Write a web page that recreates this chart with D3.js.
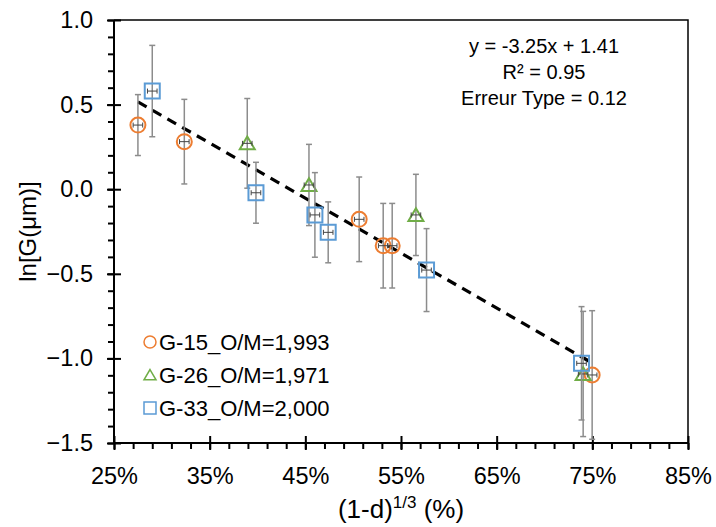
<!DOCTYPE html>
<html>
<head>
<meta charset="utf-8">
<script src="https://cdn.jsdelivr.net/npm/d3@7"></script>
<style>
  body { margin: 0; background: #fff; }
  svg { display: block; font-family: "Liberation Sans", Arial, sans-serif; }
</style>
</head>
<body>
<svg id="chart" width="716" height="527"></svg>
<script>
"use strict";
// values (x as a fraction, y = ln G)
const g15X = [0.275, 0.3235, 0.5063, 0.5314, 0.5408, 0.7498];
const g15Y = [0.379, 0.281, -0.178, -0.334, -0.334, -1.098];
const g15Err = [0.18, 0.25, 0.25, 0.25, 0.25, 0.38];

const g26X = [0.3893, 0.4538, 0.5656, 0.7404];
const g26Y = [0.271, 0.025, -0.152, -1.092];
const g26Err = [0.265, 0.24, 0.24, 0.37];

const g33X = [0.29, 0.3984, 0.46, 0.4739, 0.5767, 0.7387];
const g33Y = [0.58, -0.021, -0.152, -0.255, -0.478, -1.029];
const g33Err = [0.27, 0.18, 0.25, 0.18, 0.245, 0.335];

const xErr = 0.005;

const slope = -3.25;
const intercept = 1.41;
const fitText = ["y = -3.25x + 1.41", "R\u00b2 = 0.95", "Erreur Type = 0.12"];

const xTicks = [0.25, 0.35, 0.45, 0.55, 0.65, 0.75, 0.85];
const yTicks = [-1.5, -1.0, -0.5, 0.0, 0.5, 1.0];

const seriesNames = ["G-15_O/M=1,993", "G-26_O/M=1,971", "G-33_O/M=2,000"];

const series = [
  { name: seriesNames[0], xs: g15X, ys: g15Y, err: g15Err, color: "#ED7D31", shape: "circle" },
  { name: seriesNames[1], xs: g26X, ys: g26Y, err: g26Err, color: "#70AD47", shape: "triangle" },
  { name: seriesNames[2], xs: g33X, ys: g33Y, err: g33Err, color: "#5B9BD5", shape: "square" }
];

const svg = d3.select("#chart");
const plotLeft = 114, plotRight = 688, plotTop = 20, plotBottom = 443;

const x = d3.scaleLinear().domain([0.25, 0.85]).range([plotLeft, plotRight]);
const y = d3.scaleLinear().domain([-1.5, 1.0]).range([plotBottom, plotTop]);

// frame (top and right)
svg.append("path")
  .attr("d", `M${plotLeft},${plotTop}H${plotRight}V${plotBottom}`)
  .attr("fill", "none").attr("stroke", "#000").attr("stroke-width", 1.5);

// minor ticks
const xMinor = d3.range(0.25, 0.8501, 0.02);
const yMinor = d3.range(-1.5, 1.0001, 0.1);

const xAxisMinor = d3.axisBottom(x).tickValues(xMinor).tickSize(6).tickFormat("");
const xAxisMajor = d3.axisBottom(x).tickValues(xTicks).tickSize(7).tickPadding(17)
  .tickFormat(d3.format(".0%"));
const yAxisMinor = d3.axisLeft(y).tickValues(yMinor).tickSize(6).tickFormat("");
const yAxisMajor = d3.axisLeft(y).tickValues(yTicks).tickSize(7).tickPadding(14)
  .tickFormat(d3.format(".1f"));

function styleAxis(g) {
  g.select(".domain").remove();
  g.selectAll("line").attr("stroke", "#000").attr("stroke-width", 2);
  g.selectAll("text").attr("fill", "#000").style("font-size", "23.5px");
}

svg.append("g").attr("transform", `translate(0,${plotBottom})`).call(xAxisMinor).call(styleAxis);
const gx = svg.append("g").attr("transform", `translate(0,${plotBottom})`).call(xAxisMajor).call(styleAxis);
gx.selectAll(".tick line").attr("y1", -7);

svg.append("g").attr("transform", `translate(${plotLeft},0)`).call(yAxisMinor).call(styleAxis);
const gy = svg.append("g").attr("transform", `translate(${plotLeft},0)`).call(yAxisMajor).call(styleAxis);
gy.selectAll(".tick line").attr("x1", 7);

// axis lines
svg.append("path")
  .attr("d", `M${plotLeft},${plotTop}V${plotBottom}H${plotRight}`)
  .attr("fill", "none").attr("stroke", "#000").attr("stroke-width", 2);

// axis titles
const xTitle = svg.append("text")
  .attr("x", (plotLeft + plotRight) / 2).attr("y", 518)
  .attr("text-anchor", "middle").style("font-size", "26px").attr("fill", "#000");
xTitle.append("tspan").text("(1-d)");
xTitle.append("tspan").attr("dy", -10).style("font-size", "17px").text("1/3");
xTitle.append("tspan").attr("dy", 10).text(" (%)");

svg.append("text")
  .attr("transform", `translate(36,${(plotTop + plotBottom) / 2}) rotate(-90)`)
  .attr("text-anchor", "middle").style("font-size", "24px").attr("fill", "#000")
  .text("ln[G(\u03bcm)]");

// trend line over the data range
const allX = g15X.concat(g26X, g33X);
const fitX = d3.extent(allX);
svg.append("line")
  .attr("x1", x(fitX[0])).attr("y1", y(slope * fitX[0] + intercept))
  .attr("x2", x(fitX[1])).attr("y2", y(slope * fitX[1] + intercept))
  .attr("stroke", "#000").attr("stroke-width", 3.2).attr("stroke-dasharray", "10,7");

// markers
function markerPath(shape, s) {
  if (shape === "circle") {
    return `M${-s},0A${s},${s} 0 1,0 ${s},0A${s},${s} 0 1,0 ${-s},0Z`;
  }
  if (shape === "square") {
    return `M${-s},${-s}H${s}V${s}H${-s}Z`;
  }
  return `M0,${-s * 0.9}L${s},${s * 0.8}H${-s}Z`;
}

series.forEach(function (sr) {
  const pts = sr.xs.map((v, i) => ({ x: v, y: sr.ys[i], e: sr.err[i] }));
  const g = svg.append("g");
  // vertical error bars
  const eb = g.selectAll(".eb").data(pts).enter().append("g");
  eb.append("line")
    .attr("x1", d => x(d.x)).attr("x2", d => x(d.x))
    .attr("y1", d => y(d.y + d.e)).attr("y2", d => y(d.y - d.e))
    .attr("stroke", "#8c8c8c").attr("stroke-width", 1.5);
  [1, -1].forEach(function (sg) {
    eb.append("line")
      .attr("x1", d => x(d.x) - 3).attr("x2", d => x(d.x) + 3)
      .attr("y1", d => y(d.y + sg * d.e)).attr("y2", d => y(d.y + sg * d.e))
      .attr("stroke", "#8c8c8c").attr("stroke-width", 1.5);
  });
  // markers
  g.selectAll(".mk").data(pts).enter().append("path")
    .attr("transform", d => `translate(${x(d.x)},${y(d.y)})`)
    .attr("d", markerPath(sr.shape, 7.5))
    .attr("fill", "none").attr("stroke", sr.color).attr("stroke-width", 2);
  // horizontal error bars
  const hb = g.selectAll(".hb").data(pts).enter().append("g").attr("stroke", "#444").attr("stroke-width", 1);
  hb.append("line")
    .attr("x1", d => x(d.x - xErr)).attr("x2", d => x(d.x + xErr))
    .attr("y1", d => y(d.y)).attr("y2", d => y(d.y));
  [xErr, -xErr].forEach(function (o) {
    hb.append("line")
      .attr("x1", d => x(d.x + o)).attr("x2", d => x(d.x + o))
      .attr("y1", d => y(d.y) - 2.5).attr("y2", d => y(d.y) + 2.5);
  });
});

// legend
const legend = svg.append("g");
series.forEach(function (sr, i) {
  const ly = 342 + i * 33;
  legend.append("path")
    .attr("transform", `translate(150,${ly})`)
    .attr("d", markerPath(sr.shape, 6))
    .attr("fill", "none").attr("stroke", sr.color).attr("stroke-width", 1.5);
  legend.append("text")
    .attr("x", 159).attr("y", ly).attr("dy", "0.36em")
    .style("font-size", "22px").attr("fill", "#000")
    .text(sr.name);
});

// fit statistics
svg.append("text")
  .attr("text-anchor", "middle").style("font-size", "20px").attr("fill", "#000")
  .selectAll("tspan").data(fitText).enter().append("tspan")
  .attr("x", 544).attr("y", (d, i) => 53 + i * 26)
  .text(d => d);
</script>
</body>
</html>
